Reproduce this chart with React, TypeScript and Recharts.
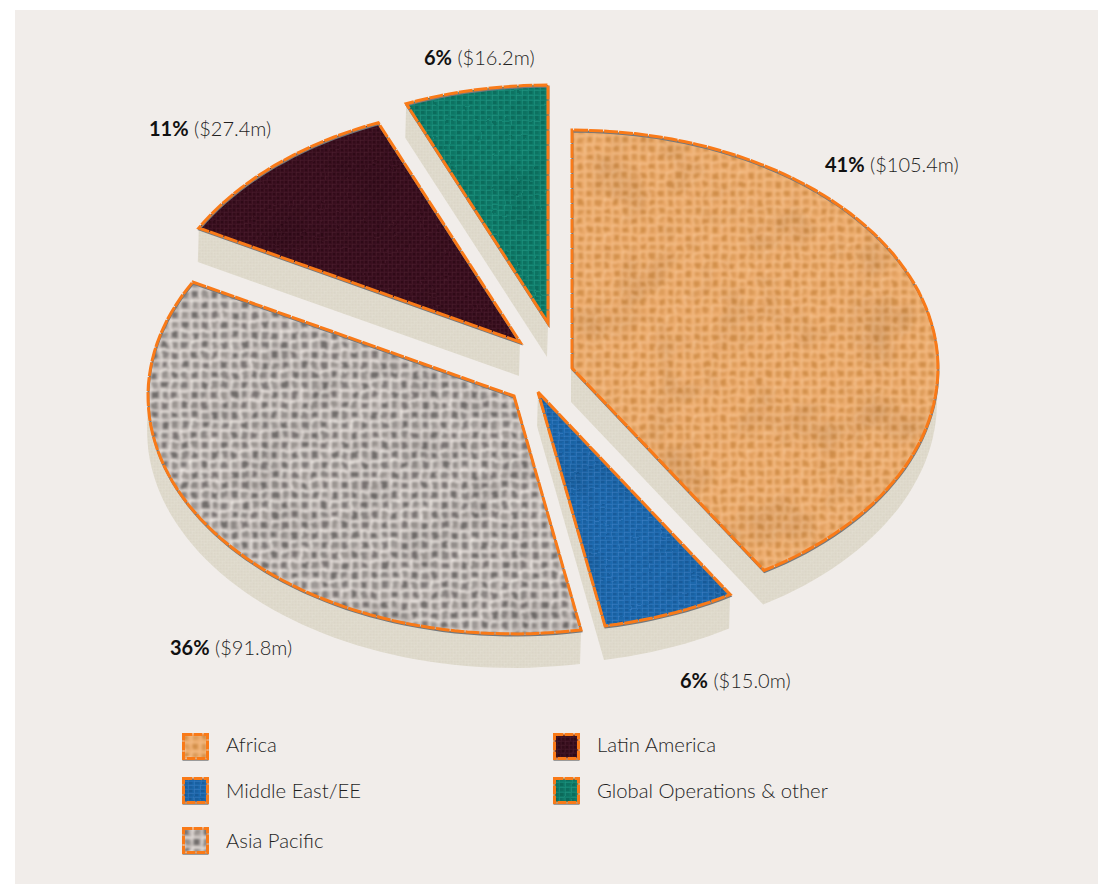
import React from 'react';
import { PieChart, Pie, Legend } from 'recharts';

const regions = ['Africa', 'Middle East/EE', 'Asia Pacific', 'Latin America', 'Global Operations & other'];
const revenue = [105.4, 15.0, 91.8, 27.4, 16.2];

const chartData = regions.map((name, i) => ({ name, value: revenue[i] }));

// the disc is drawn tilted, so vertical radii are squashed
const TILT = 0.65;
const RADIUS = 366;
const DEPTH = { dx: -1, dy: 34 };
const CENTER = { x: 540, y: 362 };
const FONT = 'Lato, "Open Sans", sans-serif';
const STITCH = '#f97a18';

// how far each slice is pulled away from the centre
const slicePull = [
  { x: 32, y: 6 },
  { x: -2, y: 30 },
  { x: -26, y: 34 },
  { x: -20, y: -20 },
  { x: 8, y: -39 },
];

const labelSpots = [
  { x: 825, y: 172 },
  { x: 680, y: 688 },
  { x: 170, y: 655 },
  { x: 149, y: 136 },
  { x: 424, y: 65 },
];

const legendSpots = [
  { x: 182, y: 733, textY: 744 },
  { x: 182, y: 777, textY: 790 },
  { x: 182, y: 827, textY: 840 },
  { x: 553, y: 733, textY: 744 },
  { x: 553, y: 777, textY: 790 },
];

type Cloth = { id: string; w: number; h: number; base: string; dark: string; light: string; wash: number; filter: string };

const cloths: Cloth[] = [
  { id: 'cloth-africa', w: 9, h: 9, base: '#eeae70', dark: '#bf7a30', light: '#f8ca9c', wash: 0.6, filter: 'weave-coarse' },
  { id: 'cloth-mideast', w: 6, h: 4, base: '#1c69ae', dark: '#15548f', light: '#3d7ec2', wash: 0.6, filter: 'weave-fine' },
  { id: 'cloth-asia', w: 10, h: 10, base: '#c2bbb7', dark: '#64605f', light: '#f6f1ed', wash: 0.85, filter: 'weave-coarse' },
  { id: 'cloth-latin', w: 4, h: 4, base: '#3a0f1f', dark: '#280612', light: '#4a1d2d', wash: 0.6, filter: 'weave-fine' },
  { id: 'cloth-global', w: 6, h: 5, base: '#0f7d6b', dark: '#0a6555', light: '#1f9480', wash: 0.7, filter: 'weave-fine' },
];

const wallCloth: Cloth = { id: 'cloth-wall', w: 3, h: 3, base: '#ded9cb', dark: '#d4ceBe', light: '#e6e2d6', wash: 0.3, filter: '' };

// a tile of 4x4 woven cells, each holding a slightly different strength of dark
const cellStrength = [0.9, 0.5, 1, 0.65, 0.55, 1, 0.7, 0.95, 1, 0.6, 0.85, 0.45, 0.7, 0.9, 0.5, 1];

function ClothPattern({ cloth }: { cloth: Cloth }) {
  const { id, w, h, base, dark, light, wash } = cloth;
  return (
    <pattern id={id} patternUnits="userSpaceOnUse" width={w * 4} height={h * 4}>
      <rect width={w * 4} height={h * 4} fill={base} />
      {cellStrength.map((s, i) => {
        const col = i % 4;
        const row = Math.floor(i / 4);
        return (
          <g key={i}>
            <rect x={col * w + w * 0.15} y={row * h + h * 0.2} width={w * 0.6} height={h * 0.6} fill={dark} opacity={s * wash} />
            <rect x={col * w} y={row * h} width={w} height={Math.max(1, h * 0.16)} fill={light} opacity={(1.4 - s) * wash} />
            <rect x={col * w} y={row * h} width={Math.max(1, w * 0.16)} height={h} fill={light} opacity={(1.4 - s) * wash} />
          </g>
        );
      })}
    </pattern>
  );
}

// warps the woven tile so the threads wander, then lays faint blotchy shading over it
function WeaveFilter({ id, warp, blur, seed }: { id: string; warp: number; blur: number; seed: number }) {
  return (
    <filter id={id} x="0" y="0" width="100%" height="100%" colorInterpolationFilters="sRGB">
      <feTurbulence type="fractalNoise" baseFrequency="0.07" numOctaves={2} seed={seed} result="noise" />
      <feDisplacementMap in="SourceGraphic" in2="noise" scale={warp} xChannelSelector="R" yChannelSelector="G" result="warped" />
      <feGaussianBlur in="warped" stdDeviation={blur} result="soft" />
      <feTurbulence type="fractalNoise" baseFrequency="0.02" numOctaves={3} seed={seed + 7} />
      <feColorMatrix values="0.2 0 0 0 0.9  0.2 0 0 0 0.9  0.2 0 0 0 0.9  0 0 0 0 1" result="mottle" />
      <feBlend in="soft" in2="mottle" mode="multiply" />
    </filter>
  );
}

const toPoint = (cx: number, cy: number, r: number, deg: number) => ({
  x: cx + r * Math.cos((deg * Math.PI) / 180),
  y: cy - r * TILT * Math.sin((deg * Math.PI) / 180),
});

const toPath = (pts: { x: number; y: number }[]) =>
  pts.map((p, i) => `${i ? 'L' : 'M'}${p.x.toFixed(1)} ${p.y.toFixed(1)}`).join(' ') + ' Z';

// slices are convex, so the side wall is the hull of the top and the top pushed down
function convexHull(points: { x: number; y: number }[]) {
  const pts = [...points].sort((a, b) => a.x - b.x || a.y - b.y);
  const cross = (o: any, a: any, b: any) => (a.x - o.x) * (b.y - o.y) - (a.y - o.y) * (b.x - o.x);
  const walk = (list: { x: number; y: number }[]) => {
    const out: { x: number; y: number }[] = [];
    for (const p of list) {
      while (out.length > 1 && cross(out[out.length - 2], out[out.length - 1], p) <= 0) out.pop();
      out.push(p);
    }
    out.pop();
    return out;
  };
  return [...walk(pts), ...walk([...pts].reverse())];
}

function TiltedSlice(props: any) {
  const { name, cx, cy, outerRadius, startAngle, endAngle } = props;
  const i = regions.indexOf(name);
  const tipX = cx + slicePull[i].x;
  const tipY = cy + slicePull[i].y;

  const outline = [{ x: tipX, y: tipY }];
  const steps = Math.ceil(Math.abs(endAngle - startAngle) / 2);
  for (let s = 0; s <= steps; s++) {
    outline.push(toPoint(tipX, tipY, outerRadius, startAngle + ((endAngle - startAngle) * s) / steps));
  }
  const top = toPath(outline);
  const wall = toPath(convexHull([...outline, ...outline.map((p) => ({ x: p.x + DEPTH.dx, y: p.y + DEPTH.dy }))]));

  const xs = outline.map((p) => p.x);
  const ys = outline.map((p) => p.y);
  const left = Math.min(...xs) - 8;
  const upper = Math.min(...ys) - 8;
  const clipId = `slice-clip-${i}`;

  return (
    <g>
      <path d={wall} fill={`url(#${wallCloth.id})`} />
      <clipPath id={clipId}>
        <path d={top} />
      </clipPath>
      <rect
        x={left}
        y={upper}
        width={Math.max(...xs) + 8 - left}
        height={Math.max(...ys) + 8 - upper}
        fill={`url(#${cloths[i].id})`}
        filter={`url(#${cloths[i].filter})`}
        clipPath={`url(#${clipId})`}
      />
      <path d={top} fill="none" stroke="#74787c" strokeWidth={2} transform="translate(0.4 1.6)" />
      <path d={top} fill="none" stroke={STITCH} strokeWidth={3} strokeDasharray="14 1" strokeLinejoin="miter" />
    </g>
  );
}

function SliceLabel(props: any) {
  const { index, percent, value } = props;
  const spot = labelSpots[index];
  return (
    <text x={spot.x} y={spot.y} fontFamily={FONT} fontSize={20} fill="#1f1f1f">
      <tspan fontWeight={700} fill="#111">{Math.round(percent * 100)}%</tspan>
      <tspan fontWeight={300}>{` ($${value.toFixed(1)}m)`}</tspan>
    </text>
  );
}

function LegendBlock({ payload }: any) {
  return (
    <div style={{ position: 'relative', width: 1098, height: 884, pointerEvents: 'none' }}>
      {(payload || []).map((entry: any) => {
        const i = regions.indexOf(entry.value);
        const spot = legendSpots[i];
        return (
          <React.Fragment key={entry.value}>
            <svg width={28} height={28} style={{ position: 'absolute', left: spot.x, top: spot.y }}>
              <rect x={1.5} y={3} width={24} height={24} fill="none" stroke="#9a9a9a" strokeWidth={2} />
              <rect x={1.5} y={1.5} width={24} height={24} fill={`url(#${cloths[i].id})`} filter={`url(#${cloths[i].filter})`} />
              <rect x={1.5} y={1.5} width={24} height={24} fill="none" stroke={STITCH} strokeWidth={3} strokeDasharray="9 1" />
            </svg>
            <span
              style={{
                position: 'absolute',
                left: spot.x + 44,
                top: spot.textY - 13,
                lineHeight: '26px',
                fontFamily: FONT,
                fontWeight: 300,
                fontSize: 20.3,
                color: '#1f1f1f',
                whiteSpace: 'nowrap',
              }}
            >
              {entry.value}
            </span>
          </React.Fragment>
        );
      })}
    </div>
  );
}

export default function App() {
  return (
    <div style={{ position: 'absolute', left: 0, top: 0, width: 1098, height: 884, background: '#fff', overflow: 'hidden' }}>
      <div style={{ position: 'absolute', left: 15, top: 10, width: 1083, height: 874, background: '#f1edea' }} />
      <div style={{ position: 'absolute', left: 0, top: 0 }}>
        <PieChart width={1098} height={884} margin={{ top: 0, right: 0, bottom: 0, left: 0 }}>
          <defs>
            {[...cloths, wallCloth].map((c) => (
              <ClothPattern key={c.id} cloth={c} />
            ))}
            <WeaveFilter id="weave-coarse" warp={5} blur={0.8} seed={4} />
            <WeaveFilter id="weave-fine" warp={2} blur={0.5} seed={11} />
          </defs>
          <Pie
            data={chartData}
            dataKey="value"
            nameKey="name"
            cx={CENTER.x}
            cy={CENTER.y}
            outerRadius={RADIUS}
            startAngle={90}
            endAngle={-270}
            stroke="none"
            isAnimationActive={false}
            shape={TiltedSlice}
            label={SliceLabel}
            labelLine={false}
          />
          <Legend
            content={LegendBlock}
            wrapperStyle={{ position: 'absolute', left: 0, top: 0, width: 1098, height: 884 }}
          />
        </PieChart>
      </div>
    </div>
  );
}
